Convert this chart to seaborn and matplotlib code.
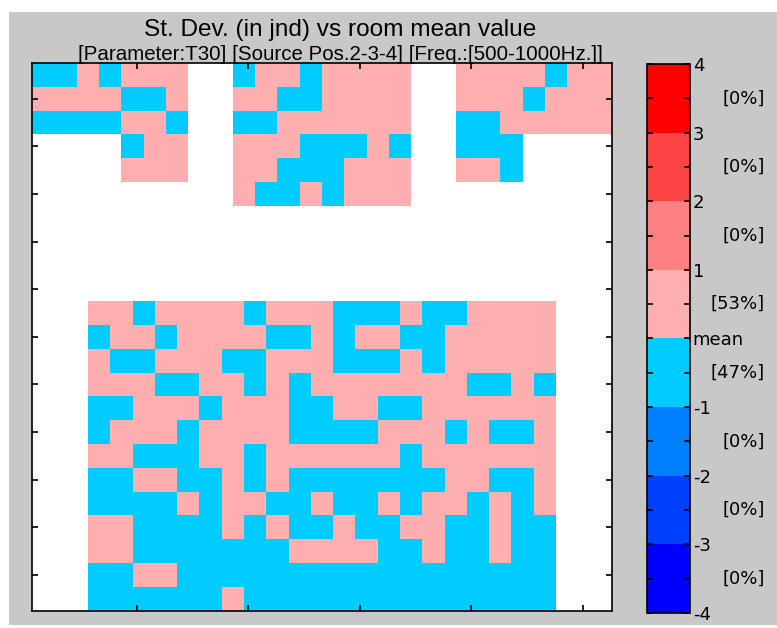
import numpy as np
import seaborn as sns
import matplotlib.pyplot as plt
from matplotlib.colors import ListedColormap
from matplotlib.patches import Rectangle
from matplotlib.transforms import blended_transform_factory

# seat maps: P = above room mean (0..1 jnd), B = below mean (-1..0 jnd), . = no seat
balcony_left = ['BBPBPPP',
                'PPPPBBP',
                'BBBBPPB',
                '....BPP',
                '....PPP']
balcony_mid = ['BPPBPPPP',
               'PPBBPPPP',
               'BBPPPPPP',
               'PPPBBBPB',
               'PPBBBPPP',
               'PBBPBPPP']
balcony_right = ['PPPPBPP',
                 'PPPBPPP',
                 'BBPPPPP',
                 'BBB....',
                 'PPB....']
stalls = ['PPBPPPPBPPPBBBPBBPPPP',
          'BPPBPPPPBBPBPPBBPPPPP',
          'PBBPPPBBPPPBBBPBPPPPP',
          'PPPBBPPBPBPPPPPPPBBPB',
          'BBPPPBPPPBBPPBBPPPPPP',
          'BPPPBPPPPBBBBPPPBPBBP',
          'PPBBBPPBPPPPPPBPPPPPP',
          'BBPPBBPBPBBBBBBBPPBBP',
          'BBBBPBPPBBPBBPBPPBPBP',
          'PPBBBBPBPBBPBBPPBBPBB',
          'PPBBBBBBBPPPPBBPBBPBB',
          'BBPPBBBBBBBBBBBBBBBBB',
          'BBBBBBPBBBBBBBBBBBBBB']

band_colors = ['#0000FF', '#0040FF', '#0080FF', '#00CCFF',
               '#FFAFAF', '#FF8080', '#FF4444', '#FF0000']
cbar_levels = [-4, -3, -2, -1, 0, 1, 2, 3, 4]
cbar_labels = ['-4', '-3', '-2', '-1', 'mean', '1', '2', '3', '4']
pct_labels = ['[0%]', '[0%]', '[0%]', '[47%]', '[53%]', '[0%]', '[0%]', '[0%]']

title = 'St. Dev. (in jnd) vs room mean value'
subtitle = '[Parameter:T30] [Source Pos.2-3-4] [Freq.:[500-1000Hz.]]'

code = {'P': 0.5, 'B': -0.5, '.': np.nan}


def build_grid():
    # half-cell columns so the stalls block can sit half a seat off the balcony grid
    grid = np.full((23, 52), np.nan)

    def put(block, row0, col0):
        for i, row in enumerate(block):
            for j, ch in enumerate(row):
                grid[row0 + i, col0 + 2 * j:col0 + 2 * j + 2] = code[ch]

    put(balcony_left, 0, 0)
    put(balcony_mid, 0, 18)
    put(balcony_right, 0, 38)
    put(stalls, 10, 5)
    return grid


W, H = 777, 628
fig = plt.figure(figsize=(W / 100, H / 100), dpi=100, facecolor='white')
fig.patches.append(Rectangle((9 / W, 3 / H), 1 - 9 / W, (H - 15) / H,
                             transform=fig.transFigure, facecolor='#C8C8C8',
                             edgecolor='none', zorder=-10))

ax = fig.add_axes([32.3 / W, 1 - 610.7 / H, 579.4 / W, 547.7 / H])
cax = fig.add_axes([646.7 / W, 1 - 613 / H, 43.3 / W, 549 / H])

sns.heatmap(build_grid(), ax=ax, cbar_ax=cax, cmap=ListedColormap(band_colors),
            vmin=-4, vmax=4, xticklabels=False, yticklabels=False,
            cbar_kws={'ticks': cbar_levels})

for s in ax.spines.values():
    s.set_visible(True)
    s.set_color('black')
    s.set_linewidth(1.2)
ax.set_xticks([9.4, 19.4, 29.4, 39.4, 49.4])
ax.set_yticks(np.arange(1.5, 22, 2))
ax.set_xticklabels([])
ax.set_yticklabels([])
ax.tick_params(direction='in', length=4, width=1.2, top=True, right=True,
               bottom=True, left=True, colors='black')

cb = ax.collections[0].colorbar
cb.outline.set_linewidth(1.2)
cb.outline.set_edgecolor('black')
cax.set_yticks(np.arange(-4, 4.01, 0.5))
cax.set_yticklabels([cbar_labels[k // 2] if k % 2 == 0 else '' for k in range(17)])
cax.tick_params(direction='in', length=4, width=1.2, left=True, right=True,
                labelsize=13, pad=2, colors='black')
for t in cax.get_yticklabels():
    t.set_fontfamily('DejaVu Sans')

tr = blended_transform_factory(cax.transAxes, cax.transData)
for k, lab in enumerate(pct_labels):
    cax.text(2.73, cbar_levels[k] + 0.5, lab, transform=tr, ha='right', va='center',
             fontsize=13, family='DejaVu Sans')

fig.text(340 / W, 1 - 36 / H, title, ha='center', va='baseline',
         fontsize=17.6, family=['Liberation Sans', 'DejaVu Sans'])
fig.text(340 / W, 1 - 60 / H, subtitle, ha='center', va='baseline',
         fontsize=14.8, family=['Liberation Sans', 'DejaVu Sans'])

fig.savefig('out.png', dpi=100, facecolor=fig.get_facecolor())
